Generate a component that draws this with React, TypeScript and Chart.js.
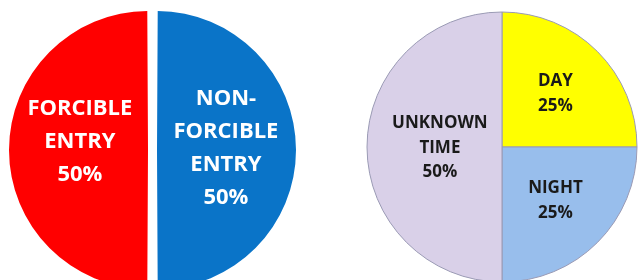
import React, { useEffect, useRef } from "react";
import { Chart, registerables } from "chart.js";

Chart.register(...registerables);

// Left pie (entry type) – order clockwise from top
const entryLabels = ["NON-\nFORCIBLE\nENTRY", "FORCIBLE\nENTRY"];
const entryValues = [50, 50];
const entryColors = ["#0A74C8", "#FF0000"];

// Right pie (time of day) – order clockwise from top
const timeLabels = ["DAY", "NIGHT", "UNKNOWN\nTIME"];
const timeValues = [25, 25, 50];
const timeColors = ["#FFFF00", "#98BEEC", "#D9D0E8"];

const labelPlugin = {
  id: "sliceLabels",
  afterDatasetsDraw(chart: any, _args: any, opts: any) {
    const ctx = chart.ctx;
    const meta = chart.getDatasetMeta(0);
    const data = chart.data.datasets[0].data as number[];
    const total = data.reduce((a: number, b: number) => a + b, 0);
    const labels = chart.data.labels as string[];
    ctx.save();
    ctx.fillStyle = opts.color;
    ctx.font = `bold ${opts.size}px "Open Sans", sans-serif`;
    ctx.textAlign = "center";
    ctx.textBaseline = "middle";
    meta.data.forEach((arc: any, i: number) => {
      const p = arc.getProps(["x", "y", "startAngle", "endAngle", "outerRadius"], true);
      const mid = (p.startAngle + p.endAngle) / 2;
      const f = opts.fractions[i];
      const x = p.x + Math.cos(mid) * p.outerRadius * f;
      const y = p.y + Math.sin(mid) * p.outerRadius * f + (opts.dy[i] || 0);
      const lines = (labels[i] + "\n" + Math.round((data[i] / total) * 100) + "%").split("\n");
      const lh = opts.lineHeight;
      const y0 = y - ((lines.length - 1) * lh) / 2;
      lines.forEach((ln: string, k: number) => ctx.fillText(ln, x, y0 + k * lh));
    });
    ctx.restore();
  },
};

function PieCanvas(props: {
  labels: string[];
  values: number[];
  colors: string[];
  radius: number;
  offset: number;
  borderWidth: number;
  borderColor: string;
  labelOpts: any;
  style: React.CSSProperties;
}) {
  const ref = useRef<HTMLCanvasElement>(null);
  useEffect(() => {
    const chart = new Chart(ref.current!, {
      type: "pie",
      data: {
        labels: props.labels,
        datasets: [
          {
            data: props.values,
            backgroundColor: props.colors,
            borderWidth: props.borderWidth,
            borderColor: props.borderColor,
            offset: props.offset,
          },
        ],
      },
      options: {
        responsive: false,
        animation: false,
        radius: props.radius,
        layout: { padding: 0 },
        plugins: {
          legend: { display: false },
          tooltip: { enabled: false },
          sliceLabels: props.labelOpts,
        } as any,
      },
      plugins: [labelPlugin],
    });
    return () => chart.destroy();
  }, []);
  const w = props.style.width as number;
  const h = props.style.height as number;
  return <canvas ref={ref} width={w} height={h} style={{ position: "absolute", ...props.style }} />;
}

export default function App() {
  return (
    <div
      style={{
        position: "fixed",
        left: 0,
        top: 0,
        width: 639,
        height: 280,
        overflow: "hidden",
        background: "#ffffff",
      }}
    >
      <PieCanvas
        labels={entryLabels}
        values={entryValues}
        colors={entryColors}
        radius={134.5}
        offset={18}
        borderWidth={0}
        borderColor="#ffffff"
        labelOpts={{ color: "#ffffff", size: 22, lineHeight: 33, fractions: [0.546, 0.54], dy: [-2, -8] }}
        style={{ left: 0, top: 0, width: 305, height: 300 }}
      />
      <PieCanvas
        labels={timeLabels}
        values={timeValues}
        colors={timeColors}
        radius={135}
        offset={0}
        borderWidth={1}
        borderColor="#9a9ab4"
        labelOpts={{ color: "#1a1a1a", size: 17, lineHeight: 24.5, fractions: [0.56, 0.56, 0.46], dy: [0, 0, 1] }}
        style={{ left: 365, top: 0, width: 274, height: 294 }}
      />
    </div>
  );
}
